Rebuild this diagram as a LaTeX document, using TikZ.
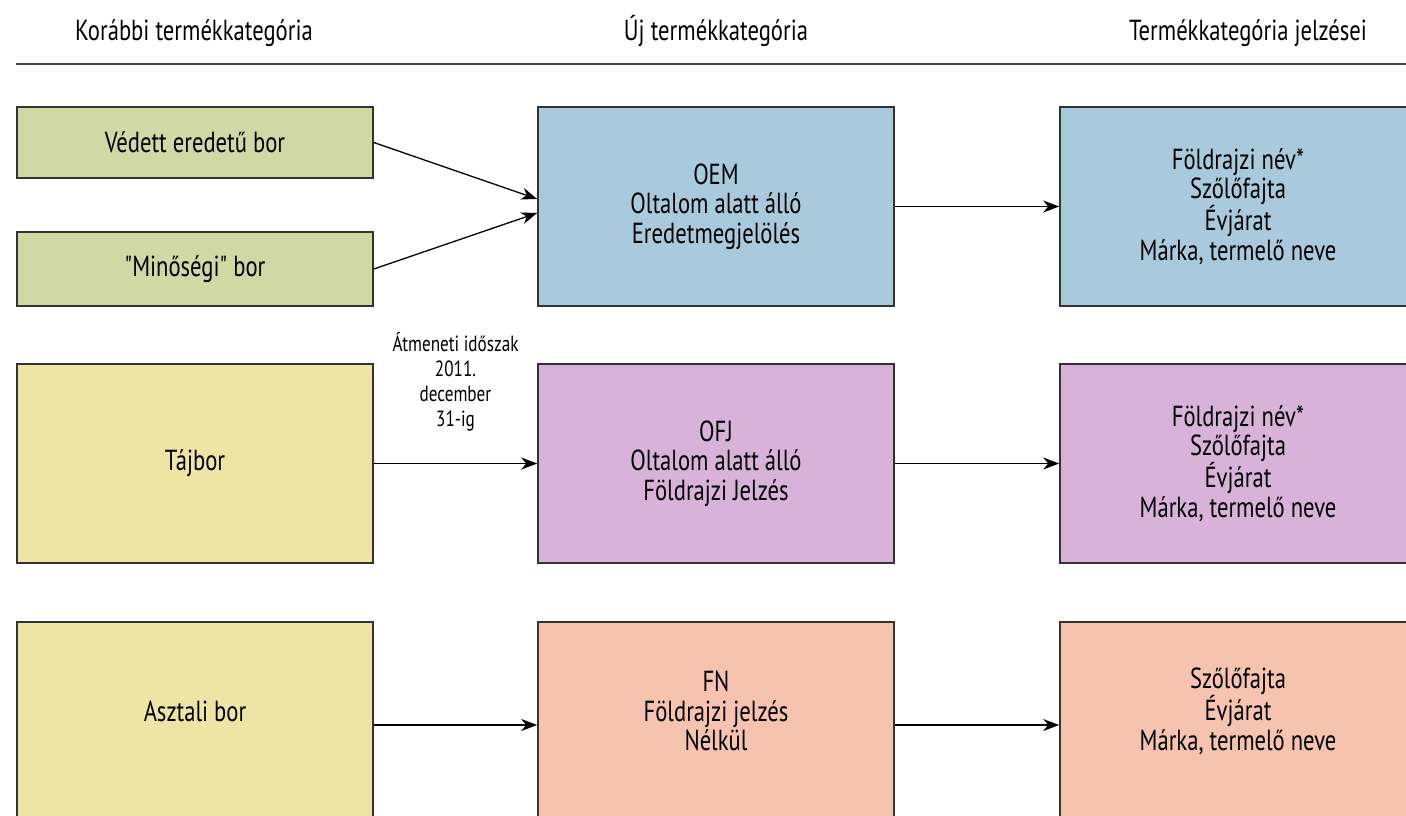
\documentclass[tikz,border=0pt]{standalone}
\usepackage{fontspec}
\setmainfont{PT Sans}[FakeStretch=0.78, Ligatures=TeXOff]
\usetikzlibrary{arrows.meta}
\definecolor{cgreen}{HTML}{D0D8A3}
\definecolor{cblue}{HTML}{A8CADC}
\definecolor{cyellow}{HTML}{EEE4A4}
\definecolor{cpurple}{HTML}{D9B2D9}
\definecolor{cpeach}{HTML}{F6C3AE}
\definecolor{cborder}{HTML}{333333}
\begin{document}
\begin{tikzpicture}[x=1pt,y=-1pt,
  box/.style={draw=cborder, line width=1.6pt, minimum width=356pt, align=center,
    font=\fontsize{29}{29.5}\selectfont, inner sep=0pt},
  txt/.style={align=center, font=\fontsize{29}{29.5}\selectfont, inner sep=0pt},
  arr/.style={-{Stealth[length=16pt,width=12pt,inset=5pt]}, line width=1.3pt},
  hdr/.style={font=\fontsize{29}{30}\selectfont, anchor=base},
  lbl/.style={font=\fontsize{22}{25}\selectfont, align=center}]
\path[use as bounding box] (0,0) rectangle (1406,816);
\clip (0,0) rectangle (1406,816);
% headers
\node[hdr] (h1) at (194,41) {Korábbi termékkategória};
\node[hdr] (h2) at (716,41) {Új termékkategória};
\node[hdr] (h3) at (1248,41) {Termékkategória jelzései};
\coordinate (ls) at (16,64);
\coordinate (le) at (1410,64);
\draw[line width=2pt, draw=black!75] (ls) -- (le);
% row 1
\node[box, fill=cgreen, minimum height=71pt] (g1) at (195,142.5) {Védett eredetű bor};
\node[box, fill=cgreen, minimum height=74pt] (g2) at (195,269) {"Minőségi" bor};
\node[box, fill=cblue, minimum height=199pt] (oem) at (716,206.5) {OEM\\Oltalom alatt álló\\Eredetmegjelölés};
\node[box, fill=cblue, minimum height=199pt] (r1) at (1238,206.5) {Földrajzi név*\\Szőlőfajta\\Évjárat\\Márka, termelő neve};
% row 2
\node[box, fill=cyellow, minimum height=199pt] (taj) at (195,463.5) {Tájbor};
\node[box, fill=cpurple, minimum height=199pt] (ofj) at (716,463.5) {OFJ\\Oltalom alatt álló\\Földrajzi Jelzés};
\node[box, fill=cpurple, minimum height=199pt] (r2) at (1238,463.5) {Földrajzi név*\\Szőlőfajta\\Évjárat\\Márka, termelő neve};
% row 3 (boxes run past the lower edge)
\node[box, fill=cyellow, minimum height=206pt] (asz) at (195,725) {};
\node[box, fill=cpeach, minimum height=206pt] (fn) at (716,725) {};
\node[box, fill=cpeach, minimum height=206pt] (r3) at (1238,725) {};
\node[txt] (asztxt) at ([yshift=14pt]asz.center) {Asztali bor};
\node[txt] (fntxt) at ([yshift=14pt]fn.center) {FN\\Földrajzi jelzés\\Nélkül};
\node[txt] (r3txt) at ([yshift=14pt]r3.center) {Szőlőfajta\\Évjárat\\Márka, termelő neve};
% label
\node[lbl] (tr) at (455.5,382) {Átmeneti időszak\\2011.\\december\\31-ig};
% arrows
\draw[arr] (g1.east) -- ([yshift=7.5pt]oem.west);
\draw[arr] (g2.east) -- ([yshift=-6.5pt]oem.west);
\draw[arr] (oem.east) -- (r1.west);
\draw[arr] (taj.east) -- (ofj.west);
\draw[arr] (ofj.east) -- (r2.west);
\draw[arr] (asz.east) -- (fn.west);
\draw[arr] (fn.east) -- (r3.west);
\end{tikzpicture}
\end{document}
